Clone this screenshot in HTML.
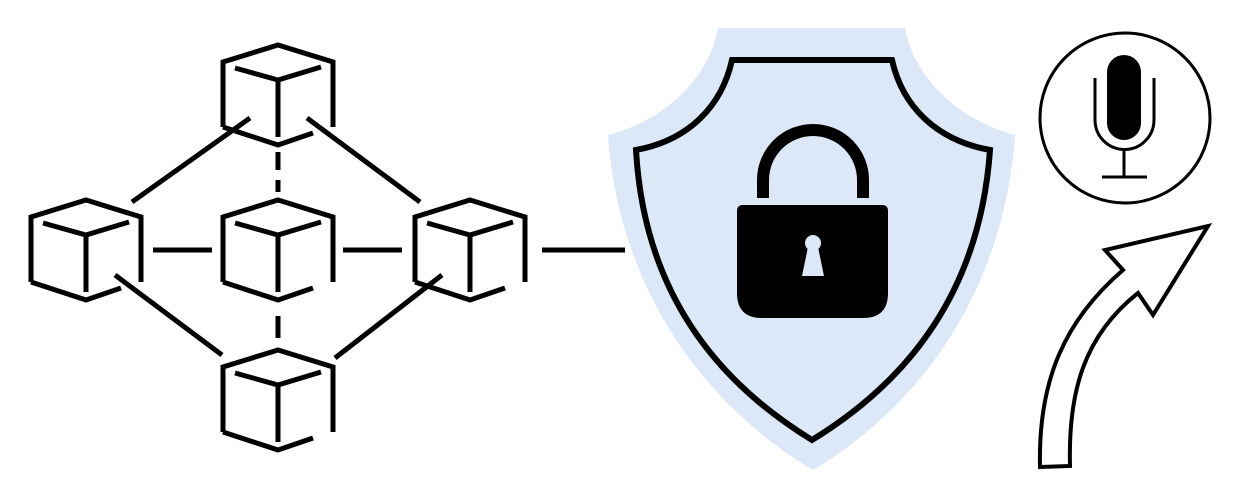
<!DOCTYPE html>
<html><head><style>html,body{margin:0;padding:0;background:#fff;width:1237px;height:500px;overflow:hidden}</style></head>
<body>
<svg width="1237" height="500" viewBox="0 0 1237 500" xmlns="http://www.w3.org/2000/svg">
<defs>
<g id="cube" fill="none" stroke="#000" stroke-width="5" stroke-linecap="butt">
  <polyline points="-55,32 -55,-33 0,-50 55,-33 55,32"/>
  <polyline points="-55,32 0,50 35,38"/>
  <polyline points="-43,-27 0,-15 43,-28"/>
  <line x1="0" y1="-15" x2="0" y2="42"/>
</g>
</defs>
<g>
  <use href="#cube" x="86" y="250"/>
  <use href="#cube" x="278" y="250"/>
  <use href="#cube" x="470" y="250"/>
  <use href="#cube" x="278" y="95"/>
  <use href="#cube" x="278" y="400"/>
</g>
<g stroke="#000" stroke-width="5">
  <line x1="153" y1="250" x2="212" y2="250"/>
  <line x1="343" y1="250" x2="402" y2="250"/>
  <line x1="542" y1="250" x2="625" y2="250"/>
  <line x1="278" y1="152" x2="278" y2="170"/>
  <line x1="278" y1="180" x2="278" y2="192"/>
  <line x1="278" y1="316" x2="278" y2="338"/>
  <line x1="132" y1="202" x2="250" y2="118"/>
  <line x1="307" y1="118" x2="420" y2="202"/>
  <line x1="115" y1="275" x2="222" y2="355"/>
  <line x1="335" y1="358" x2="442" y2="275"/>
</g>
<path d="M718,28 L905,28 C915,80 960,120 1015,135 C1005,280 930,400 813,470 C696,400 618,280 608,135 C665,120 708,80 718,28 Z" fill="#dce7f8"/>
<path d="M732,60 L892,60 C902,105 935,140 990,150 C980,290 910,380 812,440 C714,380 644,290 636,150 C690,140 722,105 732,60 Z" fill="#dce7f8" stroke="#000" stroke-width="6" stroke-linejoin="miter"/>
<path d="M763,198 L763,180 A50,50 0 0 1 863,180 L863,198" fill="none" stroke="#000" stroke-width="12"/>
<path d="M743,205 L882,205 Q888,205 888,211 L888,293 Q888,318 863,318 L762,318 Q737,318 737,293 L737,211 Q737,205 743,205 Z" fill="#000"/>
<circle cx="813" cy="243" r="8" fill="#dce7f8"/>
<path d="M808,247 L818,247 L824,276 L802,276 Z" fill="#dce7f8"/>
<circle cx="1125" cy="118" r="85" fill="none" stroke="#000" stroke-width="3"/>
<rect x="1107" y="55" width="34" height="85" rx="17" fill="#000"/>
<path d="M1095,78 L1095,120 A29.5,29.5 0 0 0 1154,120 L1154,78" fill="none" stroke="#000" stroke-width="3"/>
<line x1="1124" y1="150" x2="1124" y2="177" stroke="#000" stroke-width="3"/>
<line x1="1102" y1="177" x2="1147" y2="177" stroke="#000" stroke-width="3"/>
<path d="M1040,467 L1070,466 C1068,390 1085,335 1138,293 L1153,315 L1208,226 L1105,250 L1123,270 C1065,320 1038,380 1040,467 Z" fill="#fff" stroke="#000" stroke-width="4" stroke-linejoin="miter"/>
</svg>
</body></html>
